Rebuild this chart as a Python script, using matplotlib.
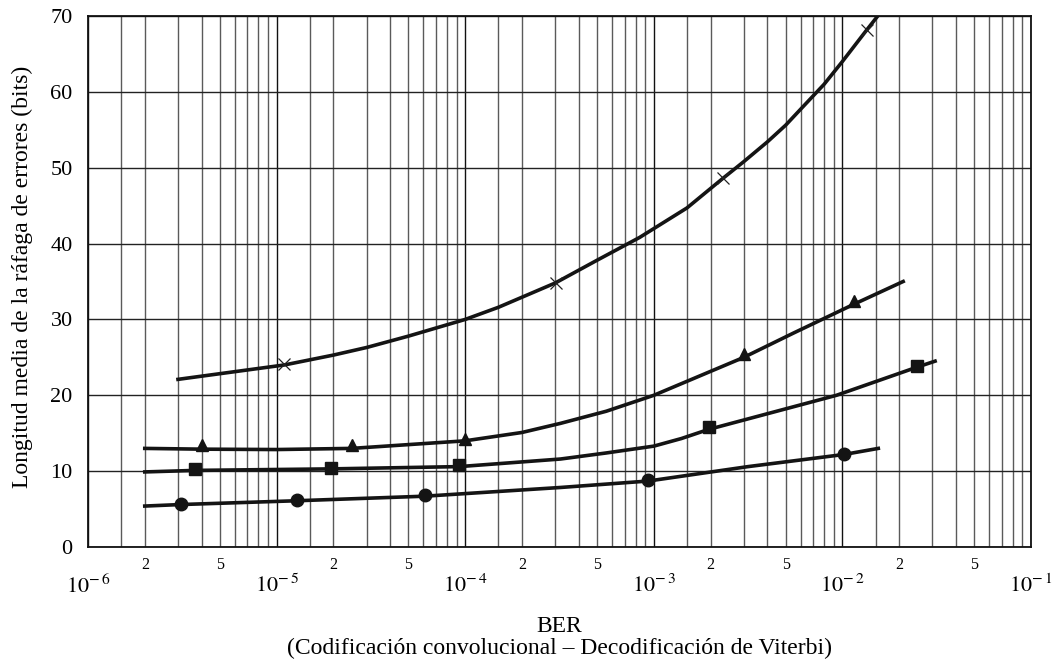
import numpy as np
import matplotlib
matplotlib.use("Agg")
import matplotlib.pyplot as plt
from matplotlib.ticker import FixedLocator, FixedFormatter

plt.rcParams['font.family'] = ['Liberation Serif', 'DejaVu Serif']
plt.rcParams['mathtext.fontset'] = 'stix'

# curves (BER, mean burst length in bits)
ber_x = [3.0e-6, 1.1e-5, 2.0e-5, 3.0e-5, 5.0e-5, 1.0e-4, 1.5e-4, 3.0e-4, 5.0e-4,
         8.4e-4, 1.5e-3, 2.3e-3, 3.0e-3, 4.0e-3, 5.0e-3, 6.0e-3, 8.0e-3, 1.0e-2,
         1.35e-2, 1.54e-2]
len_x = [22.1, 24.0, 25.3, 26.3, 27.8, 30.0, 31.6, 34.8, 37.8,
         40.8, 44.7, 48.5, 50.8, 53.4, 55.6, 57.7, 61.0, 64.0,
         68.2, 70.0]
mk_ber_x = [1.1e-5, 3.04e-4, 2.32e-3, 1.35e-2]
mk_len_x = [24.1, 34.8, 48.6, 68.2]

ber_tri = [2.0e-6, 4.0e-6, 1.0e-5, 2.5e-5, 1.0e-4, 2.0e-4, 3.2e-4, 5.6e-4, 1.0e-3,
           3.0e-3, 5.5e-3, 1.15e-2, 2.1e-2]
len_tri = [13.0, 12.9, 12.85, 13.0, 14.0, 15.1, 16.3, 17.9, 20.0,
           25.0, 28.2, 32.0, 35.0]
mk_ber_tri = [4.0e-6, 2.5e-5, 1.0e-4, 3.0e-3, 1.15e-2]
mk_len_tri = [13.4, 13.4, 14.3, 25.4, 32.4]

ber_sq = [2.0e-6, 3.7e-6, 1.94e-5, 9.3e-5, 3.2e-4, 5.6e-4, 1.0e-3, 1.4e-3, 1.95e-3,
          9.3e-3, 2.48e-2, 3.1e-2]
len_sq = [9.9, 10.1, 10.3, 10.6, 11.6, 12.4, 13.3, 14.3, 15.5,
          20.0, 23.7, 24.5]
mk_ber_sq = [3.7e-6, 1.94e-5, 9.3e-5, 1.95e-3, 2.48e-2]
mk_len_sq = [10.3, 10.4, 10.8, 15.8, 23.8]

ber_c = [2.0e-6, 3.1e-6, 1.28e-5, 6.1e-5, 3.2e-4, 9.35e-4, 3.16e-3, 1.02e-2, 1.55e-2]
len_c = [5.4, 5.6, 6.1, 6.7, 7.85, 8.7, 10.6, 12.2, 13.0]
mk_ber_c = [3.1e-6, 1.28e-5, 6.1e-5, 9.35e-4, 1.02e-2]
mk_len_c = [5.7, 6.2, 6.8, 8.8, 12.3]

y_ticks = [0, 10, 20, 30, 40, 50, 60, 70]
decades = [1e-6, 1e-5, 1e-4, 1e-3, 1e-2, 1e-1]
dec_labels = ['$10^{-\\,6}$', '$10^{-\\,5}$', '$10^{-\\,4}$', '$10^{-\\,3}$',
              '$10^{-\\,2}$', '$10^{-\\,1}$']
minor_steps = [1.5, 2, 3, 4, 5, 6, 7, 8, 9]
labelled_steps = [2, 5]

fig = plt.figure(figsize=(10.64, 6.65), dpi=100)
ax = fig.add_axes([0.0827, 0.1774, 0.8863, 0.7986])
ax.set_xscale('log')
ax.set_xlim(1e-6, 1e-1)
ax.set_ylim(0, 70)

ax.xaxis.set_major_locator(FixedLocator(decades))
ax.xaxis.set_major_formatter(FixedFormatter(dec_labels))
minor_pos = []
minor_lab = []
for d in decades[:-1]:
    for k in minor_steps:
        minor_pos.append(k * d)
        minor_lab.append(str(k) if k in labelled_steps else '')
ax.xaxis.set_minor_locator(FixedLocator(minor_pos))
ax.xaxis.set_minor_formatter(FixedFormatter(minor_lab))
ax.set_yticks(y_ticks)
ax.grid(True, which='major', axis='x', color='#111111', lw=1.0)
ax.grid(True, which='minor', axis='x', color='#5a5a5a', lw=1.0)
ax.grid(True, which='major', axis='y', color='#222222', lw=1.0)
ax.set_axisbelow(True)
for s in ax.spines.values():
    s.set_linewidth(1.3)
    s.set_color('#111111')

ax.tick_params(which='both', length=0)
ax.tick_params(axis='x', which='major', pad=20, labelsize=16)
ax.tick_params(axis='x', which='minor', pad=7, labelsize=11.5)
ax.tick_params(axis='y', pad=11, labelsize=16)

lw = 2.6
ink = '#141414'
ax.plot(ber_x, len_x, color=ink, lw=lw)
ax.plot(mk_ber_x, mk_len_x, ls='none', marker='x', color='#222222', ms=8, mew=0.9)
ax.plot(ber_tri, len_tri, color=ink, lw=lw)
ax.plot(mk_ber_tri, mk_len_tri, ls='none', marker='^', color=ink, ms=9)
ax.plot(ber_sq, len_sq, color=ink, lw=lw)
ax.plot(mk_ber_sq, mk_len_sq, ls='none', marker='s', color=ink, ms=8.5)
ax.plot(ber_c, len_c, color=ink, lw=lw)
ax.plot(mk_ber_c, mk_len_c, ls='none', marker='o', color=ink, ms=9)

fig.text(0.0207, 0.583, 'Longitud media de la ráfaga de errores (bits)',
         rotation=90, ha='center', va='center', fontsize=17)
fig.text(0.526, 0.0586, 'BER', ha='center', va='center', fontsize=17)
fig.text(0.526, 0.025, '(Codificación convolucional – Decodificación de Viterbi)',
         ha='center', va='center', fontsize=17)

fig.savefig('out.png', dpi=100)
